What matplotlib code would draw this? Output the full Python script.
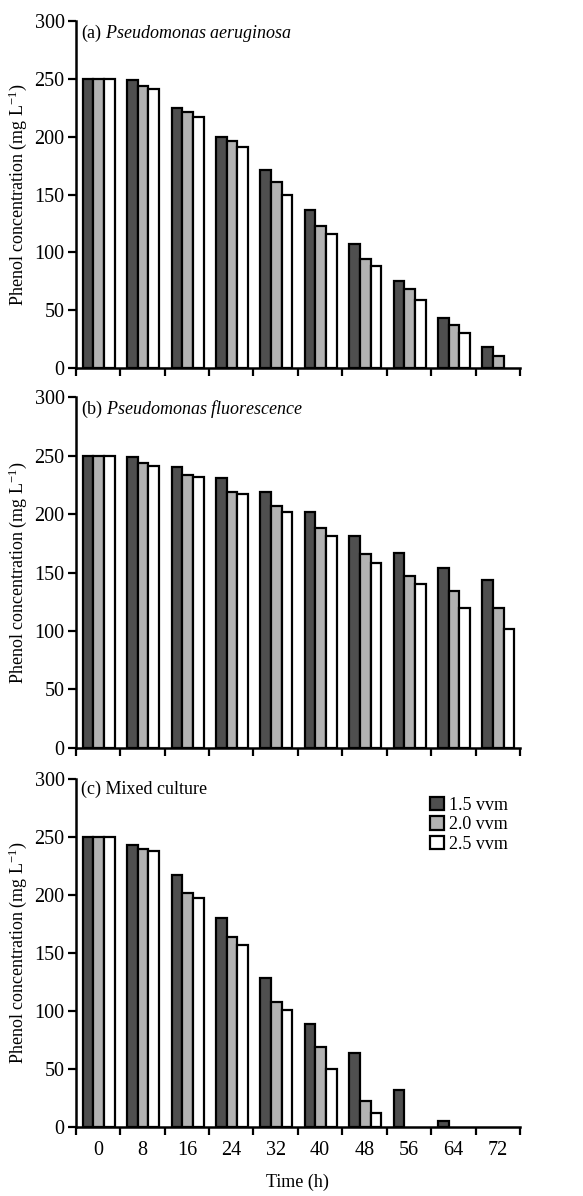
import numpy as np
import matplotlib
matplotlib.use("Agg")
import matplotlib.pyplot as plt
from matplotlib.patches import Patch

plt.rcParams['font.family'] = ['Liberation Serif', 'DejaVu Serif']
plt.rcParams['mathtext.fontset'] = 'custom'
plt.rcParams['mathtext.rm'] = 'Liberation Serif'
plt.rcParams['mathtext.it'] = 'Liberation Serif:italic'

times = ['0', '8', '16', '24', '32', '40', '48', '56', '64', '72']
series = ['1.5 vvm', '2.0 vvm', '2.5 vvm']
colors = ['#4f4f4f', '#b2b2b2', '#ffffff']

# panel (a) Pseudomonas aeruginosa
a_15 = [250, 249, 225, 200, 171, 137, 107, 75, 43, 18]
a_20 = [250, 244, 221, 196, 161, 123, 94, 68, 37, 10]
a_25 = [250, 241, 217, 191, 150, 116, 88, 59, 30, 0]

# panel (b) Pseudomonas fluorescence
b_15 = [250, 249, 240, 231, 219, 202, 181, 167, 154, 144]
b_20 = [250, 244, 233, 219, 207, 188, 166, 147, 134, 120]
b_25 = [250, 241, 232, 217, 202, 181, 158, 140, 120, 102]

# panel (c) mixed culture
c_15 = [250, 243, 217, 180, 128, 89, 64, 32, 5, 0]
c_20 = [250, 240, 202, 164, 108, 69, 22, 0, 0, 0]
c_25 = [250, 238, 197, 157, 101, 50, 12, 0, 0, 0]

panels = [
    (r"(a) $\mathit{Pseudomonas\ aeruginosa}$", [a_15, a_20, a_25]),
    (r"(b) $\mathit{Pseudomonas\ fluorescence}$", [b_15, b_20, b_25]),
    ("(c) Mixed culture", [c_15, c_20, c_25]),
]

fig = plt.figure(figsize=(5.83, 11.96), dpi=100)
boxes = [(0.6923, 0.9824), (0.3746, 0.668), (0.0577, 0.3487)]
left, right = 0.130, 0.892

x = np.arange(len(times))
w = 0.24
fs = 13
tfs = 14.5

for k, ((title, data), (bot, top)) in enumerate(zip(panels, boxes)):
    ax = fig.add_axes([left, bot, right - left, top - bot])
    for j, vals in enumerate(data):
        vals = np.array(vals, dtype=float)
        keep = vals > 0  # empty bars are not drawn
        ax.bar(x[keep] + (j - 1) * w + 0.015, vals[keep], width=w, color=colors[j],
               edgecolor='black', linewidth=1.6, label=series[j], zorder=2)
    ax.set_xlim(-0.5, len(times) - 0.5)
    ax.set_ylim(0, 300)
    ax.set_yticks(np.arange(0, 301, 50))
    ax.set_xticks(np.arange(len(times) + 1) - 0.5)
    ax.set_xticklabels([])
    ax.set_xticks(x, minor=True)
    ax.tick_params(axis='x', which='minor', length=0, labelsize=tfs, pad=10)
    if k == 2:
        ax.set_xticklabels(times, minor=True)
        ax.set_xlabel('Time (h)', fontsize=fs, labelpad=10)
    ax.tick_params(axis='both', which='major', direction='out', length=6,
                   width=1.6, labelsize=tfs, pad=2)
    for s in ['top', 'right']:
        ax.spines[s].set_visible(False)
    for s in ['left', 'bottom']:
        ax.spines[s].set_linewidth(1.8)
    ax.set_ylabel(r'Phenol concentration (mg L$^{-1}$)', fontsize=fs, labelpad=4)
    ax.text(0.012, 0.995, title, transform=ax.transAxes, fontsize=fs,
            ha='left', va='top')
    if k == 2:
        handles = [Patch(facecolor=c, edgecolor='black', linewidth=1.6) for c in colors]
        ax.legend(handles, series, loc='upper right', bbox_to_anchor=(0.99, 0.97),
                  frameon=False, fontsize=fs, handlelength=0.75, handleheight=0.75,
                  handletextpad=0.3, labelspacing=0.15, borderaxespad=0)

fig.savefig('out.png', dpi=100)
